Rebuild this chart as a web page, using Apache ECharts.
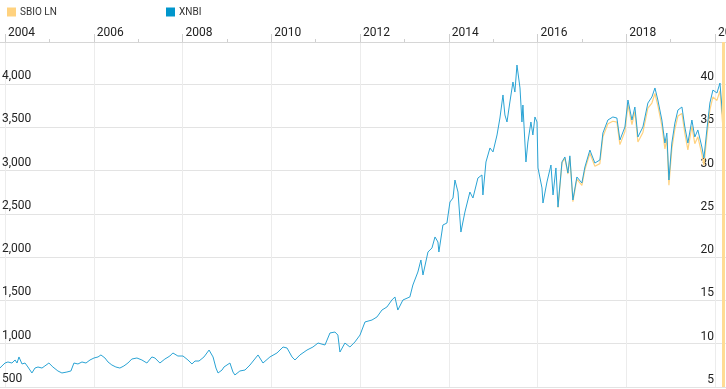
<!DOCTYPE html>
<html><head><meta charset="utf-8">
<script src="https://cdn.jsdelivr.net/npm/echarts@6/dist/echarts.min.js"></script>
<style>html,body{margin:0;padding:0;background:#fff}#c{width:726px;height:389px}</style>
</head><body><div id="c"></div>
<script>
const xnbiDates = [
 '2003-11-20','2003-12-06',
 '2004-01-01','2004-01-25','2004-02-27','2004-03-24','2004-04-09','2004-04-25','2004-05-20','2004-06-14','2004-07-08','2004-08-10','2004-09-04','2004-09-29','2004-11-01','2004-11-25','2004-12-28',
 '2005-01-30','2005-03-12','2005-04-14','2005-05-25','2005-06-27','2005-07-22','2005-08-24','2005-09-26','2005-10-29','2005-12-01',
 '2006-01-03','2006-02-05','2006-03-01','2006-04-03','2006-04-28','2006-05-30','2006-07-02','2006-08-04','2006-09-06','2006-10-09','2006-11-10','2006-12-22',
 '2007-02-01','2007-03-14','2007-04-24','2007-05-19','2007-06-29','2007-08-09','2007-09-19','2007-10-14','2007-11-24',
 '2008-01-05','2008-02-15','2008-03-19','2008-04-13','2008-05-16','2008-06-26','2008-08-07','2008-09-09','2008-10-03','2008-10-20','2008-11-22','2008-12-08',
 '2009-01-26','2009-02-20','2009-03-08','2009-04-18','2009-05-30','2009-07-10','2009-09-14','2009-10-25','2009-12-21',
 '2010-02-17','2010-04-08','2010-05-11','2010-06-21','2010-07-15','2010-08-25','2010-10-22','2010-12-10',
 '2011-01-21','2011-03-19','2011-04-29','2011-06-09','2011-07-03','2011-07-20','2011-08-30','2011-10-10','2011-11-20',
 '2012-01-01','2012-02-11','2012-04-09','2012-05-20','2012-06-30','2012-08-10','2012-09-20','2012-10-15','2012-11-08','2012-12-20',
 '2013-02-15','2013-03-12','2013-04-22','2013-05-17','2013-06-03','2013-07-14','2013-08-16','2013-09-10','2013-10-04','2013-10-12','2013-11-14','2013-12-17',
 '2014-01-11','2014-02-05','2014-02-21','2014-03-18','2014-04-11','2014-05-14','2014-06-24','2014-07-19','2014-08-29','2014-10-01','2014-10-09','2014-11-03','2014-12-06','2014-12-31',
 '2015-02-02','2015-02-26','2015-03-23','2015-04-08','2015-04-25','2015-05-19','2015-06-13','2015-06-29','2015-07-16','2015-08-10','2015-08-26','2015-09-03','2015-09-28','2015-10-14','2015-11-08','2015-11-24','2015-12-11','2015-12-28',
 '2016-01-05','2016-02-07','2016-02-15','2016-03-19','2016-04-21','2016-05-08','2016-06-01','2016-06-18','2016-07-21','2016-08-14','2016-09-08','2016-09-24','2016-10-19','2016-11-21',
 '2017-01-01','2017-01-26','2017-03-08','2017-04-18','2017-05-29','2017-06-23','2017-08-03','2017-09-13','2017-10-16','2017-11-10','2017-12-21',
 '2018-01-15','2018-02-17','2018-03-13','2018-04-07','2018-05-18','2018-06-28','2018-07-31','2018-08-25','2018-09-18','2018-10-21','2018-11-15','2018-12-01','2018-12-18',
 '2019-01-11','2019-02-05','2019-03-02','2019-04-04','2019-04-28','2019-05-23','2019-06-25','2019-07-19','2019-08-13','2019-09-15','2019-10-02','2019-10-26','2019-11-20','2019-12-15',
 '2020-01-17','2020-02-11','2020-02-27','2020-03-06'
];
const xnbiValues = [
 720,708,
 777,789,777,812,777,847,766,777,731,662,719,731,719,743,777,
 731,685,662,673,685,777,766,789,777,812,
 835,847,870,835,789,754,731,719,743,777,823,835,
 812,777,847,835,777,823,858,893,858,
 858,812,766,800,800,847,927,847,719,662,696,731,
 777,673,639,685,696,754,870,777,847,
 893,962,950,847,812,870,927,962,
 1008,985,1124,1135,1100,904,1008,962,1020,
 1100,1251,1274,1309,1389,1424,1505,1540,1389,1505,
 1540,1678,1828,1967,1794,2059,2106,2233,2175,2059,2371,2394,
 2637,2683,2891,2752,2290,2521,2752,2683,2914,2949,2718,3099,3261,3215,
 3411,3607,3873,3642,3561,3792,4023,3907,4219,3954,3561,3757,3099,3330,3561,3411,3619,3561,
 3030,2799,2625,2868,3064,2718,3030,2579,3100,3157,2972,3170,2660,2926,
 2856,3041,3237,3087,3122,3434,3584,3619,3607,3353,3503,
 3815,3584,3734,3388,3503,3780,3850,3954,3815,3584,3318,3434,2891,
 3318,3549,3699,3734,3503,3318,3584,3388,3469,3272,3145,3469,3780,3930,
 3896,4011,3734,3584
];
const sbioDates = ['2016-06-18','2016-07-21','2016-08-14','2016-09-08','2016-09-24','2016-10-19','2016-11-21','2017-01-01','2017-01-26','2017-03-08','2017-04-18','2017-05-29','2017-06-23','2017-08-03','2017-09-13','2017-10-16','2017-11-10','2017-12-21','2018-01-15','2018-02-17','2018-03-13','2018-04-07','2018-05-18','2018-06-28','2018-07-31','2018-08-25','2018-09-18','2018-10-21','2018-11-15','2018-12-01','2018-12-18','2019-01-11','2019-02-05','2019-03-02','2019-04-04','2019-04-28','2019-05-23','2019-06-25','2019-07-19','2019-08-13','2019-09-15','2019-10-02','2019-10-26','2019-11-20','2019-12-15','2020-01-17','2020-02-11','2020-02-27','2020-03-06'];
const sbioValues = [25.7,30.9,31.4,29.6,31.5,26.4,29.0,28.3,30.1,32.0,30.5,30.8,33.9,35.4,35.7,35.6,33.0,34.5,37.6,35.3,36.8,33.3,34.4,37.2,37.8,38.9,37.5,35.2,32.5,33.7,28.3,32.5,34.8,36.3,36.6,34.3,32.4,35.1,33.1,33.9,31.9,30.6,33.9,37.0,38.5,38.1,39.2,36.5,35.0];
const yearTicks = [2004,2005,2006,2007,2008,2009,2010,2011,2012,2013,2014,2015,2016,2017,2018,2019,2020];
const yearLabels = [2004,2006,2008,2010,2012,2014,2016,2018,2020];
const oddYears = [2005,2007,2009,2011,2013,2015,2017,2019];

function toYear(s){
  const d = Date.parse(s + 'T00:00:00Z');
  const y = Number(s.slice(0,4));
  const a = Date.UTC(y,0,1), b = Date.UTC(y+1,0,1);
  return y + (d - a) / (b - a);
}
const n = Math.min(xnbiDates.length, xnbiValues.length);
const xnbi = xnbiDates.slice(0,n).map((d,i)=>[toYear(d), xnbiValues[i]]);
const sbio = sbioDates.map((d,i)=>[toYear(d), sbioValues[i]]);
const lastX = toYear(sbioDates[sbioDates.length-1]);

const FONT = 'Roboto, Arial, sans-serif';
const chart = echarts.init(document.getElementById('c'));
const XMIN = 2003.887, XMAX = 2020.248;
chart.setOption({
  animation: false,
  legend: [
    {left: 2, top: 2, icon: 'rect', itemWidth: 9, itemHeight: 9, itemGap: 4, data: ['SBIO LN'],
     textStyle: {fontSize: 10, color: '#333', fontFamily: FONT, padding: [0,0,0,-1]}},
    {left: 161, top: 2, icon: 'rect', itemWidth: 9, itemHeight: 9, itemGap: 4, data: ['XNBI'],
     textStyle: {fontSize: 10, color: '#333', fontFamily: FONT, padding: [0,0,0,-1]}}
  ],
  grid: {left: 0, right: 0, top: 42, bottom: 2, containLabel: false, outerBoundsMode: 'none'},
  xAxis: [
    {type: 'value', position: 'top', min: XMIN, max: XMAX,
     axisLine: {show: true, lineStyle: {color: '#d6d6d6', width: 1}},
     axisTick: {show: true, customValues: yearLabels, length: 8, lineStyle: {color: '#cfcfcf'}},
     axisLabel: {show: true, customValues: yearLabels, formatter: v => String(Math.round(v)), align: 'left',
       padding: [0,0,0,3], margin: 3, fontSize: 12, color: '#222', fontFamily: FONT, hideOverlap: false},
     splitLine: {show: true, customValues: yearTicks, lineStyle: {color: '#ececec', width: 1}}},
    {type: 'value', position: 'top', min: XMIN, max: XMAX,
     axisLine: {show: false},
     axisTick: {show: true, customValues: oddYears, length: 3, lineStyle: {color: '#cfcfcf'}},
     axisLabel: {show: false}, splitLine: {show: false}}
  ],
  yAxis: [
    {type: 'value', position: 'left', min: 500, max: 4485, interval: 500,
     axisLine: {show: false}, axisTick: {show: false},
     axisLabel: {inside: true, align: 'left', verticalAlign: 'bottom', margin: 2, padding: [0,0,2,0],
       fontSize: 12, color: '#222', fontFamily: FONT,
       formatter: v => (v % 500 === 0 ? v.toLocaleString('en-US') : '')},
     splitLine: {show: true, lineStyle: {color: '#e3e3e3', width: 1}}},
    {type: 'value', position: 'right', min: 5, max: 44.85, interval: 5,
     axisLine: {show: false}, axisTick: {show: false},
     axisLabel: {inside: true, align: 'right', verticalAlign: 'bottom', margin: 12, padding: [0,0,1,0],
       fontSize: 12, color: '#222', fontFamily: FONT,
       formatter: v => (Math.abs(v % 5) < 1e-6 ? String(v) : '')},
     splitLine: {show: false}}
  ],
  series: [
    {name: 'SBIO LN', type: 'line', yAxisIndex: 1, data: sbio, showSymbol: false, z: 2,
     color: '#ffd27f', lineStyle: {width: 1.2, color: '#ffd27f'},
     markLine: {silent: true, symbol: 'none', label: {show: false},
       lineStyle: {color: '#ffdc94', width: 3, type: 'solid'}, data: [{xAxis: lastX}]}},
    {name: 'XNBI', type: 'line', data: xnbi, showSymbol: false, z: 3,
     color: '#0096cc', lineStyle: {width: 1, color: '#2aa3d4'}}
  ]
});
</script></body></html>
